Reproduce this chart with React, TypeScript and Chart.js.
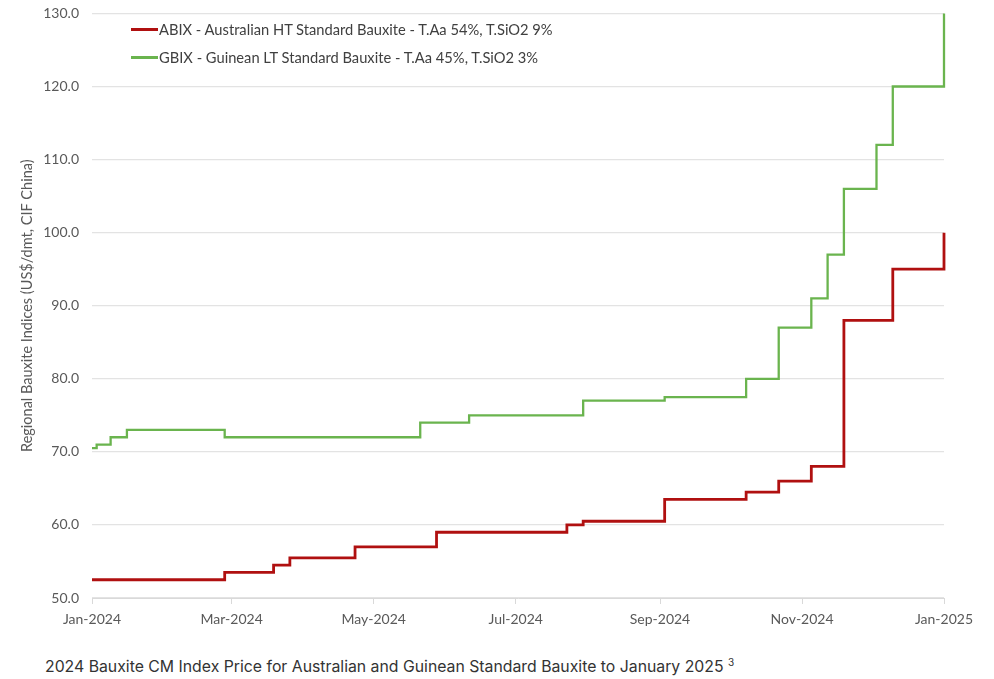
import React, { useEffect, useRef } from "react";
import { Chart, registerables } from "chart.js";

Chart.register(...registerables);

const abixDates = ["2024-01-01", "2024-02-27", "2024-03-19", "2024-03-26", "2024-04-23", "2024-05-28", "2024-07-23", "2024-07-30", "2024-09-03", "2024-10-08", "2024-10-22", "2024-11-05", "2024-11-19", "2024-12-10", "2025-01-01"];
const abixValues = [52.5, 53.5, 54.5, 55.5, 57.0, 59.0, 60.0, 60.5, 63.5, 64.5, 66.0, 68.0, 88.0, 95.0, 100.0];

const gbixDates = ["2024-01-01", "2024-01-03", "2024-01-09", "2024-01-16", "2024-02-27", "2024-05-21", "2024-06-11", "2024-07-30", "2024-09-03", "2024-10-08", "2024-10-22", "2024-11-05", "2024-11-12", "2024-11-19", "2024-12-03", "2024-12-10", "2025-01-01"];
const gbixValues = [70.5, 71.0, 72.0, 73.0, 72.0, 74.0, 75.0, 77.0, 77.5, 80.0, 87.0, 91.0, 97.0, 106.0, 112.0, 120.0, 130.0];

const tickDates = ["2024-01-01", "2024-03-01", "2024-05-01", "2024-07-01", "2024-09-01", "2024-11-01", "2025-01-01"];
const monthNames = ["Jan", "Feb", "Mar", "Apr", "May", "Jun", "Jul", "Aug", "Sep", "Oct", "Nov", "Dec"];

const seriesLabels = [
  "ABIX - Australian HT Standard Bauxite - T.Aa 54%, T.SiO2 9%",
  "GBIX - Guinean LT Standard Bauxite - T.Aa 45%, T.SiO2 3%",
];
const seriesColors = ["#B01010", "#6AB44E"];
const yTitle = "Regional Bauxite Indices (US$/dmt, CIF China)";
const caption = "2024 Bauxite CM Index Price for Australian and Guinean Standard Bauxite to January 2025";

const ts = (d: string) => Date.parse(d + "T00:00:00Z");

export default function App() {
  const ref = useRef<HTMLCanvasElement | null>(null);
  useEffect(() => {
    if (!ref.current) return;
    const family = "Lato, 'Noto Sans', sans-serif";
    const font = { family, size: 14 };
    const chart = new Chart(ref.current, {
      type: "line",
      data: {
        datasets: [
          {
            label: seriesLabels[0],
            data: abixDates.map((d, i) => ({ x: ts(d), y: abixValues[i] })),
            borderColor: seriesColors[0],
            borderWidth: 2.8,
            pointRadius: 0,
            stepped: "before",
            fill: false,
            clip: 6,
          },
          {
            label: seriesLabels[1],
            data: gbixDates.map((d, i) => ({ x: ts(d), y: gbixValues[i] })),
            borderColor: seriesColors[1],
            borderWidth: 2.3,
            pointRadius: 0,
            stepped: "before",
            fill: false,
            clip: 6,
          },
        ],
      },
      options: {
        animation: false,
        responsive: false,
        maintainAspectRatio: false,
        layout: { padding: { left: 0, right: 50, top: 3, bottom: 0 } },
        plugins: { legend: { display: false }, tooltip: { enabled: false } },
        scales: {
          x: {
            type: "linear",
            min: ts(tickDates[0]),
            max: ts(tickDates[tickDates.length - 1]),
            afterBuildTicks: (s: any) => {
              s.ticks = tickDates.map((d) => ({ value: ts(d) }));
            },
            afterFit: (s: any) => {
              s.height = 42;
            },
            ticks: {
              autoSkip: false,
              maxRotation: 0,
              padding: 7,
              color: "#595959",
              font,
              callback: (v: any) => {
                const dt = new Date(Number(v));
                return monthNames[dt.getUTCMonth()] + "-" + dt.getUTCFullYear();
              },
            },
            grid: { drawOnChartArea: false, drawTicks: true, tickLength: 6, color: "#d9d9d9" },
            border: { display: true, color: "#d9d9d9", width: 1 },
          },
          y: {
            min: 50,
            max: 130,
            afterFit: (s: any) => {
              s.width = 92;
            },
            ticks: {
              stepSize: 10,
              padding: 13,
              color: "#595959",
              font,
              callback: (v: any) => Number(v).toFixed(1),
            },
            title: { display: true, text: yTitle, color: "#595959", font: { family, size: 14.5 }, padding: { top: 19, bottom: 0 } },
            grid: { color: "#e3e3e3", drawTicks: false, lineWidth: 1.2 },
            border: { display: false },
          },
        },
      },
    });
    return () => chart.destroy();
  }, []);

  const legendItem = (i: number, cy: number) => (
    <div
      key={i}
      style={{ position: "absolute", left: 131, top: cy - 10, height: 20, display: "flex", alignItems: "center", whiteSpace: "nowrap" }}
    >
      <span style={{ display: "inline-block", width: 27, height: 3, background: seriesColors[i], marginRight: 1 }} />
      <span style={{ fontFamily: "Lato, 'Noto Sans', sans-serif", fontSize: 14.7, color: "#404040", lineHeight: "20px" }}>{seriesLabels[i]}</span>
    </div>
  );

  return (
    <div style={{ position: "fixed", left: 0, top: 0, width: 994, height: 679, background: "#fff", overflow: "hidden" }}>
      <canvas ref={ref} width={994} height={648} style={{ position: "absolute", left: 0, top: -8, width: 994, height: 648 }} />
      {legendItem(0, 29)}
      {legendItem(1, 57)}
      <div
        style={{
          position: "absolute",
          left: 45,
          top: 657,
          fontFamily: "Inter, Roboto, sans-serif",
          fontSize: 15.8,
          color: "#333",
          whiteSpace: "nowrap",
          lineHeight: "20px",
        }}
      >
        {caption} <sup style={{ fontSize: 10, verticalAlign: "6px", lineHeight: 0 }}>3</sup>
      </div>
    </div>
  );
}
